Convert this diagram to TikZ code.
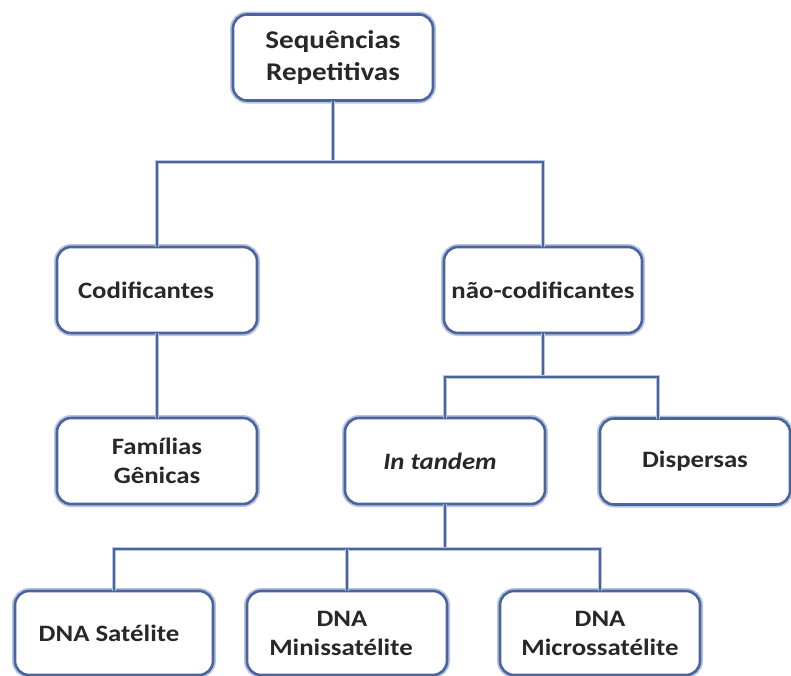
\documentclass[tikz,border=0pt]{standalone}
\usepackage{fontspec}
\setmainfont{Carlito}[FakeStretch=1.14]
\definecolor{bordercol}{HTML}{4A64A0}
\definecolor{glowcol}{HTML}{B9C4E0}
\definecolor{txtcol}{HTML}{282828}
\newcommand{\shl}[1]{\hspace*{-#1}}
\begin{document}
\begin{tikzpicture}[x=1pt,y=-1pt,
  box/.style={draw=bordercol, line width=2.6pt, rounded corners=14pt, fill=white,
    preaction={draw=glowcol, line width=6pt},
    minimum width=200pt, minimum height=86pt, inner sep=0pt, outer sep=0pt,
    align=center, text=txtcol, font=\fontsize{23.5}{29}\selectfont\bfseries},
  conn/.style={draw=bordercol, line width=2.4pt,
    preaction={draw=glowcol, line width=4pt}}]
\useasboundingbox (0,0) rectangle (791,675);
% boxes
\node[box, font=\fontsize{25.5}{32}\selectfont\bfseries] (top) at (333,57.5) {Sequências\\Repetitivas};
\node[box] (cod) at (157,290) {\shl{22pt}Codificantes};
\node[box, minimum width=198pt] (nao) at (543,290) {não-codificantes};
\node[box] (fam) at (157,461) {Famílias\\Gênicas};
\node[box] (tand) at (445,461) {\shl{10pt}\itshape In tandem};
\node[box, minimum width=190pt] (disp) at (695,461.5) {Dispersas};
\node[box, minimum width=198pt, minimum height=84pt] (sat) at (114,633) {\shl{10pt}DNA Satélite};
\node[box, minimum height=84pt] (mini) at (347,633) {\shl{10pt}DNA\\\shl{12pt}Minissatélite};
\node[box, minimum height=84pt] (micro) at (600,633) {DNA\\Microssatélite};
% junctions
\coordinate (j1) at (333,162);
\coordinate (j2) at (543,377);
\coordinate (j3) at (445,549);
\coordinate (dtop) at ([xshift=-37pt]disp.north);
% connectors
\draw[conn] (top.south) -- (j1);
\draw[conn] (cod.north) |- (j1) -| (nao.north);
\draw[conn] (cod.south) -- (fam.north);
\draw[conn] (nao.south) -- (j2);
\draw[conn] (tand.north) |- (j2) -| (dtop);
\draw[conn] (tand.south) -- (j3);
\draw[conn] (sat.north) |- (j3) -| (micro.north);
\draw[conn] (mini.north) -- (mini.north |- j3);
\end{tikzpicture}
\end{document}
